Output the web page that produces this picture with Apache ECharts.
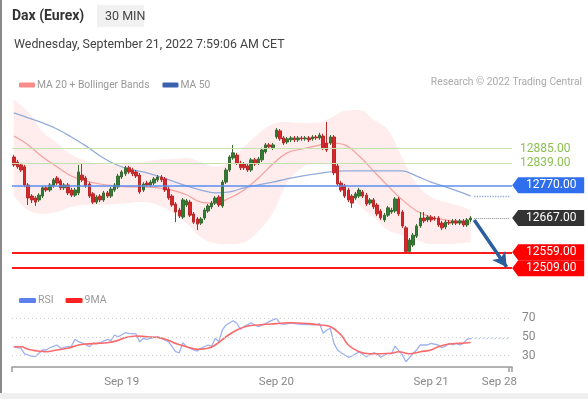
<!DOCTYPE html>
<html>
<head>
<meta charset="utf-8">
<script src="https://cdn.jsdelivr.net/npm/echarts@6/dist/echarts.min.js"></script>
<style>
  html, body { margin: 0; padding: 0; background: #fff; }
  #wrap { position: relative; width: 588px; height: 399px; overflow: hidden; }
  #edge { position: absolute; left: 0; top: 0; width: 2px; height: 393px; background: #8a8a8a; }
  #foot { position: absolute; left: 0; top: 393px; width: 588px; height: 6px; background: #efefef; }
  #chart { position: absolute; left: 0; top: 0; width: 588px; height: 399px; }
</style>
</head>
<body>
<div id="wrap">
  <div id="chart"></div>
  <div id="edge"></div>
  <div id="foot"></div>
</div>
<script>
// 30 min candles, [open, close, low, high]
const candles = [
  [12859,12834,12828,12866],[12843,12828,12822,12850],[12834,12818,12812,12840],[12828,12771,12764,12834],
  [12771,12730,12708,12777],[12736,12724,12714,12742],[12730,12717,12705,12736],[12724,12739,12718,12745],
  [12736,12762,12730,12768],[12762,12755,12749,12768],[12755,12771,12749,12777],[12768,12787,12762,12793],
  [12793,12777,12771,12799],[12784,12762,12755,12790],[12762,12771,12755,12777],[12771,12746,12739,12777],
  [12755,12739,12733,12762],[12739,12755,12733,12762],[12746,12812,12739,12834],[12802,12787,12780,12837],
  [12793,12768,12762,12799],[12774,12736,12730,12780],[12743,12717,12711,12749],[12717,12733,12711,12739],
  [12736,12724,12717,12742],[12724,12746,12718,12752],[12746,12736,12730,12752],[12736,12758,12730,12765],
  [12755,12771,12749,12777],[12765,12799,12758,12806],[12796,12812,12790,12818],[12806,12825,12799,12831],
  [12825,12812,12806,12831],[12818,12806,12799,12825],[12812,12799,12793,12818],[12802,12749,12743,12809],
  [12755,12774,12749,12780],[12777,12771,12765,12784],[12771,12780,12765,12787],[12777,12790,12771,12796],
  [12787,12796,12780,12802],[12796,12787,12780,12802],[12790,12755,12749,12796],[12758,12730,12724,12765],
  [12736,12708,12702,12742],[12711,12686,12654,12717],[12692,12673,12667,12699],[12670,12724,12664,12730],
  [12708,12721,12702,12727],[12717,12676,12670,12724],[12680,12654,12648,12686],[12664,12648,12629,12670],
  [12651,12664,12645,12670],[12667,12692,12661,12699],[12689,12705,12683,12711],[12702,12714,12695,12721],
  [12714,12730,12708,12736],[12733,12708,12702,12739],[12705,12780,12699,12787],[12780,12818,12774,12825],
  [12818,12859,12812,12865],[12856,12872,12850,12897],[12865,12840,12834,12872],[12840,12825,12818,12847],
  [12837,12825,12818,12843],[12831,12818,12812,12837],[12818,12850,12812,12856],[12850,12837,12831,12856],
  [12840,12853,12834,12859],[12850,12881,12843,12888],[12875,12897,12869,12903],[12897,12891,12884,12903],
  [12888,12897,12881,12903],[12922,12944,12916,12950],[12941,12916,12910,12947],[12919,12903,12897,12925],
  [12906,12916,12900,12922],[12913,12919,12906,12925],[12919,12913,12906,12925],[12913,12919,12906,12925],
  [12919,12916,12910,12925],[12916,12919,12910,12925],[12919,12913,12906,12925],[12916,12922,12910,12928],
  [12922,12919,12913,12928],[12919,12928,12913,12935],[12925,12888,12881,12932],[12903,12881,12875,12969],
  [12903,12922,12897,12928],[12922,12809,12802,12928],[12831,12774,12768,12837],[12777,12755,12749,12784],
  [12768,12736,12730,12774],[12755,12724,12717,12762],[12736,12714,12699,12742],[12730,12743,12724,12749],
  [12736,12755,12730,12762],[12749,12736,12730,12755],[12739,12711,12705,12746],[12714,12724,12708,12730],
  [12724,12702,12695,12730],[12708,12680,12673,12714],[12689,12667,12661,12695],[12661,12676,12654,12683],
  [12676,12699,12670,12705],[12686,12692,12680,12699],[12689,12727,12683,12733],[12727,12680,12673,12733],
  [12686,12642,12636,12692],[12636,12562,12559,12642],[12562,12598,12559,12604],[12582,12613,12576,12620],
  [12610,12642,12604,12648],[12642,12667,12636,12686],[12667,12658,12651,12686],[12661,12670,12654,12676],
  [12670,12661,12654,12676],[12667,12664,12658,12673],[12667,12645,12639,12673],[12651,12636,12629,12658],
  [12639,12654,12632,12661],[12654,12651,12645,12661],[12651,12658,12645,12664],[12658,12651,12645,12664],
  [12651,12658,12645,12664],[12658,12645,12639,12664],[12645,12661,12639,12667],[12661,12667,12654,12673]
];

// indicator lines, read every 4th candle: [candle index, value]
const sampleIdx = [0,4,8,12,16,20,24,28,32,36,40,44,48,52,56,60,64,68,72,76,80,84,88,92,96,100,104,108,112,116,120,124,127];
const bandUpper = [13039,13001,12938,12903,12866,12847,12837,12834,12840,12843,12850,12853,12856,12843,12828,12843,
  12891,12932,12963,12969,12966,12966,12982,13004,13007,12976,12944,12856,12774,12733,12717,12705,12692];
const bandLower = [12736,12692,12680,12686,12702,12708,12708,12711,12714,12717,12708,12686,12651,12607,12588,12585,
  12591,12626,12683,12777,12824,12840,12834,12771,12708,12670,12629,12613,12598,12585,12585,12588,12591];
const ma20 = [12925,12897,12859,12828,12799,12784,12774,12768,12765,12765,12762,12755,12740,12717,12714,12730,
  12755,12793,12837,12872,12884,12894,12903,12897,12862,12815,12768,12724,12689,12670,12661,12654,12651];
const ma50 = [12998,12982,12966,12947,12922,12894,12862,12837,12821,12812,12799,12784,12768,12755,12746,12749,
  12762,12771,12780,12790,12799,12806,12812,12815,12815,12815,12815,12815,12799,12780,12765,12749,12736];

const rsi = [[0,39.5],[2,37.8],[3,31.8],[5,29.6],[6,28.9],[7,32.5],[8,36],[9,36],[10,38.4],[11,39.9],[12,41.3],
  [13,37.8],[15,39.5],[16,39.9],[17,47.3],[18,44.8],[20,42],[21,39.5],[22,43],[23,42.4],[24,43.7],[26,47.3],
  [27,46],[28,51.9],[29,50],[31,54.3],[32,53.7],[34,53],[35,44.8],[36,48.4],[37,47.3],[39,49.4],[40,50],
  [41,48.4],[43,44.8],[44,39.5],[45,34.2],[46,33],[47,43.7],[48,39.5],[50,36],[51,34.9],[52,37.8],[54,41.3],
  [55,40],[56,48.4],[57,44.8],[58,57.2],[59,62.5],[61,67],[62,64.3],[63,57.9],[64,60.7],[66,64.9],[67,62.5],
  [68,60.7],[70,63.9],[71,66],[73,69.5],[74,63.9],[75,63.2],[77,64.4],[80,63.2],[82,62.9],[84,62.5],[85,64],
  [86,53.7],[87,57.2],[88,59],[89,43],[90,36],[91,33.1],[93,28.3],[94,29.6],[96,34.2],[98,28.9],[100,33.1],
  [101,32],[102,28.3],[104,32.5],[105,32],[106,40.2],[107,35.3],[108,31.1],[109,23.6],[111,32.5],[112,36],
  [113,41.3],[115,41.3],[116,43],[118,41.3],[119,38.4],[120,40],[121,43],[122,41.3],[123,43],[124,41.3],
  [125,43],[126,47.3],[127,48.4]];
const rsiMa = [[0,39.5],[2,39.5],[4,36.7],[6,35.3],[9,34.2],[12,36],[15,37.8],[18,41.3],[20,42.4],[23,43],
  [26,43.7],[29,46.2],[31,49.1],[34,50.8],[37,50],[40,49.4],[43,46.2],[45,43],[48,39.5],[51,36.7],[54,37.8],
  [56,41.3],[59,50],[62,57.2],[65,61.4],[68,62.5],[70,63.2],[73,63.9],[76,64.9],[80,64.4],[82,63.9],[85,62.5],
  [88,60.7],[91,51.9],[93,41.3],[96,34.2],[99,32],[102,32],[105,32.5],[107,34.2],[110,32],[113,34.2],[116,36],
  [118,39.5],[121,42.4],[124,43],[127,44]];

// levels
const resistLevels = [12885, 12839];
const pivotLevel = 12770;
const lastPrice = 12667;
const supportLevels = [12559, 12509];
const rsiLevels = [70, 50, 30];

// time axis: 139 slots (128 candles + forecast room), day labels
const slotCount = 139;
const dayLabelIdx = [30, 73, 116, 135];
const dayLabels = ['Sep 19', 'Sep 20', 'Sep 21', 'Sep 28'];
const slots = Array.from({ length: slotCount }, (_, i) => String(i));

const lastIdx = candles.length - 1;
const endIdx = slotCount - 1;
const pair = (idx, vals) => idx.map((x, k) => [x, vals[k]]);
const bandWidth = bandUpper.map((u, k) => u - bandLower[k]);

const chart = echarts.init(document.getElementById('chart'), null, { renderer: 'canvas' });

const tagPath = 'path://M0,8 L6,0 L72,0 L72,16 L6,16 Z';
function tag(value, color) {
  return {
    coord: [endIdx, value],
    symbol: tagPath,
    symbolSize: [72, 16],
    symbolOffset: [38, 0],
    itemStyle: { color: color },
    label: { show: true, formatter: value.toFixed(2), color: '#fff', fontSize: 12, offset: [3, 0] }
  };
}

chart.setOption({
  animation: false,
  textStyle: { fontFamily: 'Roboto, "Liberation Sans", sans-serif' },
  graphic: [
    { type: 'rect', left: 97, top: 5, shape: { width: 47, height: 22 }, style: { fill: '#f1f1f1' } },
    { type: 'text', left: 12, top: 9, style: { text: 'Dax (Eurex)', font: 'bold 14px Roboto', fill: '#333' } },
    { type: 'text', left: 105, top: 10, style: { text: '30 MIN', font: '12.5px Roboto', fill: '#444' } },
    { type: 'text', left: 14, top: 39, style: { text: 'Wednesday, September 21, 2022 7:59:06 AM CET', font: '12.4px Roboto', fill: '#444' } },
    { type: 'text', right: 6, top: 77, style: { text: 'Research \u00a9 2022 Trading Central', font: '10.3px Roboto', fill: '#aaa' } }
  ],
  legend: [
    {
      left: 14, top: 75, icon: 'roundRect', itemWidth: 16, itemHeight: 5, itemGap: 13,
      selectedMode: false,
      textStyle: { color: '#999', fontSize: 10.3, padding: [0, 0, 0, -3] },
      data: [
        { name: 'MA 20 + Bollinger Bands', itemStyle: { color: '#f98b8b' } },
        { name: 'MA 50', itemStyle: { color: '#3a61ad' } }
      ]
    },
    {
      left: 14, top: 290, icon: 'roundRect', itemWidth: 17, itemHeight: 5, itemGap: 12,
      selectedMode: false,
      textStyle: { color: '#999', fontSize: 10.5, padding: [0, 0, 0, -3] },
      data: [
        { name: 'RSI', itemStyle: { color: '#5c80ee' } },
        { name: '9MA', itemStyle: { color: '#ff2222' } }
      ]
    }
  ],
  grid: [
    { left: 12, width: 500, top: 95, height: 185 },
    { left: 12, width: 500, top: 299, height: 68 }
  ],
  xAxis: [
    { type: 'category', gridIndex: 0, data: slots, show: false },
    {
      type: 'category', gridIndex: 1, data: slots,
      axisLine: { lineStyle: { color: '#9a9a9a', width: 1.5 } },
      axisTick: {
        show: true, length: 5, lineStyle: { color: '#9a9a9a', width: 1.5 },
        interval: (i) => i === 0 || i === endIdx
      },
      axisLabel: {
        color: '#888', fontSize: 11.5, margin: 9,
        interval: (i) => dayLabelIdx.indexOf(i) >= 0,
        formatter: (v, i) => dayLabels[dayLabelIdx.indexOf(i)] || ''
      }
    }
  ],
  yAxis: [
    { type: 'value', gridIndex: 0, min: 12472, max: 13054, show: false },
    { type: 'value', gridIndex: 1, min: 18, max: 90, show: false }
  ],
  series: [
    {
      name: 'bandBase', type: 'line', stack: 'band', data: pair(sampleIdx, bandLower),
      smooth: 0.4, symbol: 'none', lineStyle: { opacity: 0 }, silent: true, z: 1
    },
    {
      name: 'bandFill', type: 'line', stack: 'band', data: pair(sampleIdx, bandWidth),
      smooth: 0.4, symbol: 'none', lineStyle: { opacity: 0 },
      areaStyle: { color: 'rgba(255, 90, 90, 0.17)' }, silent: true, z: 1
    },
    {
      name: 'MA 20 + Bollinger Bands', type: 'line', data: pair(sampleIdx, ma20),
      smooth: 0.4, symbol: 'none', lineStyle: { color: '#f6a09e', width: 1.2 }, z: 2
    },
    {
      name: 'MA 50', type: 'line', data: pair(sampleIdx, ma50),
      smooth: 0.4, symbol: 'none', lineStyle: { color: '#93abdb', width: 1.3 }, z: 2
    },
    {
      name: 'price', type: 'candlestick', data: candles, barWidth: 3, clip: false, z: 3,
      itemStyle: { color: '#2f7d32', color0: '#d8262b', borderColor: '#3a6b33', borderColor0: '#b82a2a', borderWidth: 1 },
      markLine: {
        silent: true, symbol: 'none', animation: false,
        label: { show: false },
        data: [
          ...resistLevels.map((v) => ({
            yAxis: v, lineStyle: { color: '#c7e2ae', width: 1.2, type: 'solid' },
            label: { show: true, position: 'end', distance: 8, formatter: v.toFixed(2), color: '#8cc152', fontSize: 12 }
          })),
          { yAxis: pivotLevel, lineStyle: { color: '#5b8ff0', width: 1.6, type: 'solid' } },
          ...supportLevels.map((v) => ({ yAxis: v, lineStyle: { color: '#ff1a1a', width: 2, type: 'solid' } })),
          [{ coord: [lastIdx + 1, lastPrice] }, { coord: [endIdx, lastPrice], lineStyle: { color: '#888', width: 1, type: 'dotted' } }],
          [{ coord: [lastIdx + 1, ma50[ma50.length - 1]] },
           { coord: [endIdx, ma50[ma50.length - 1]], lineStyle: { color: '#93abdb', width: 1.3, type: 'dotted' } }],
          [{ coord: [lastIdx + 1, 12661], symbol: 'none' },
           { coord: [endIdx - 1, 12513], symbol: 'arrow', symbolSize: [12, 14], lineStyle: { color: '#2c5e9e', width: 3.5, type: 'solid' } }]
        ]
      },
      markPoint: {
        silent: true, animation: false,
        data: [
          tag(pivotLevel, '#2f6fed'),
          tag(lastPrice, '#333333'),
          tag(supportLevels[0], '#ff0000'),
          tag(supportLevels[1], '#ff0000')
        ]
      }
    },
    {
      name: 'RSI', type: 'line', xAxisIndex: 1, yAxisIndex: 1, data: rsi,
      symbol: 'none', lineStyle: { color: '#9cb2f2', width: 1.3 }, z: 2,
      markLine: {
        silent: true, symbol: 'none', animation: false,
        data: [
          ...rsiLevels.map((v) => ({
            yAxis: v, lineStyle: { color: '#cfcfcf', width: 1, type: [1, 3] },
            label: { show: true, position: 'end', distance: 10, formatter: String(v), color: '#888', fontSize: 12 }
          })),
          [{ coord: [lastIdx, 48.4] }, { coord: [endIdx, 48.4], lineStyle: { color: '#9cb2f2', width: 1.3, type: [1, 3] } }]
        ]
      }
    },
    {
      name: '9MA', type: 'line', xAxisIndex: 1, yAxisIndex: 1, data: rsiMa,
      smooth: 0.4, symbol: 'none', lineStyle: { color: '#fb6a6a', width: 1.6 }, z: 3
    }
  ]
});
</script>
</body>
</html>
